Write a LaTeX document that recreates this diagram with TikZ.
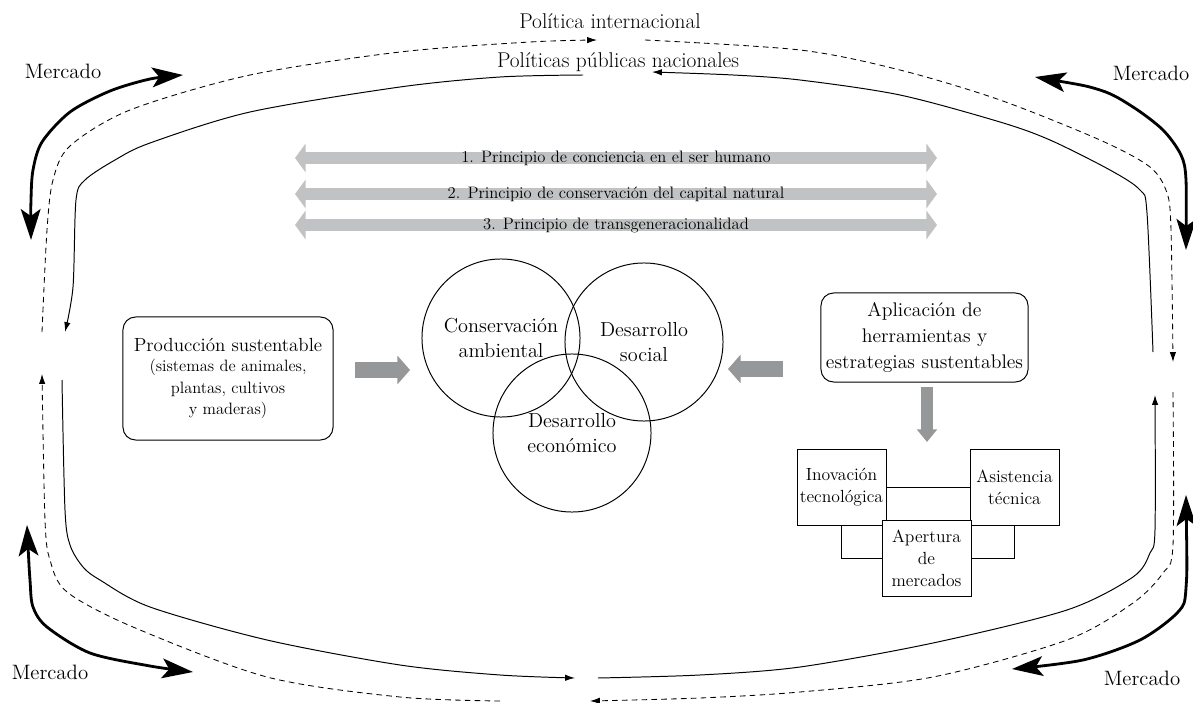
\documentclass[tikz,border=0pt]{standalone}
\usepackage{tikz}
\usetikzlibrary{positioning, arrows.meta}
\definecolor{principlegray}{RGB}{192,194,196}
\definecolor{blockgray}{RGB}{150,151,153}
\tikzset{mlabel/.style={font=\fontsize{14.8}{17}\selectfont},
  intl flow/.style={dash pattern=on 4pt off 3pt, line width=0.6pt, -{Latex[length=7pt,width=4.5pt]}},
  natl flow/.style={line width=0.7pt, -{Latex[length=7pt,width=4.5pt]}},
  market/.style={line width=2pt, {Stealth[length=22pt,width=14pt,inset=5pt]}-{Stealth[length=22pt,width=14pt,inset=5pt]}},
  principle/.style={draw=principlegray, line width=9.2pt, {Triangle[length=7.5pt,width=20pt]}-{Triangle[length=7.5pt,width=20pt]}},
  ptext/.style={font=\fontsize{11.8}{13}\selectfont, inner sep=0pt},
  block arrow/.style={draw=blockgray, line width=12pt, -{Triangle[length=9pt,width=20pt]}},
  round box/.style={draw, rounded corners=9pt, align=center, line width=0.7pt},
  venn/.style={circle, draw, minimum size=3.95cm, inner sep=0pt, align=center, line width=0.7pt, font=\fontsize{14.4}{17.8}\selectfont},
  tool box/.style={draw, fill=white, minimum width=2.225cm, minimum height=1.9cm, inner sep=1pt, align=center, line width=0.7pt, font=\fontsize{12.5}{15.6}\selectfont},}

\begin{document}
\begin{tikzpicture}[x=0.025cm, y=-0.025cm]
        \useasboundingbox (0,0) rectangle (1193,703);
        % Labels
        \node[mlabel, font=\fontsize{15.2}{17}\selectfont] (intl) at (610,21) {Política internacional};
        \node[mlabel, font=\fontsize{15.2}{17}\selectfont] (natl) at (618,62) {Políticas públicas nacionales};
        \node[mlabel] (m1) at (63,71) {Mercado};
        \node[mlabel] (m2) at (1151,73) {Mercado};
        \node[mlabel] (m3) at (50,672) {Mercado};
        \node[mlabel] (m4) at (1142,678) {Mercado};
        % International policy (dashed)
        \draw[intl flow] plot[smooth] coordinates {(42,332) (47,230) (53,180) (70,146) (130,110) (250,75) (400,52) (530,42) (597,40)};
        \draw[intl flow] plot[smooth] coordinates {(645,40) (800,50) (900,70) (1000,100) (1100,140) (1150,167) (1167,193) (1171,230) (1173,362)};
        \draw[intl flow] plot[smooth] coordinates {(1173,392) (1173,545) (1163,573) (1133,603) (1067,640) (933,677) (800,692) (700,698) (590,701)};
        \draw[intl flow] plot[smooth] coordinates {(500,701) (400,697) (267,677) (133,627) (67,592) (50,560) (45,520) (42,374)};
        % National policy (solid)
        \draw[natl flow] plot[smooth] coordinates {(583,75) (500,77) (400,87) (250,112) (150,143) (115,160) (85,180) (76,200) (73,287) (65,332)};
        \draw[natl flow] plot[smooth] coordinates {(62,380) (65,510) (70,545) (83,567) (100,580) (150,607) (267,640) (400,665) (500,675) (575,678)};
        \draw[natl flow] plot[smooth] coordinates {(598,678) (700,675) (800,667) (933,643) (1067,610) (1133,577) (1150,553) (1155,530) (1155,395)};
        \draw[natl flow] plot[smooth] coordinates {(1153,352) (1147,213) (1140,190) (1110,170) (1050,140) (1000,122) (900,95) (800,80) (733,75) (652,72)};
        % Market
        \draw[market] plot[smooth] coordinates {(31,240) (31,200) (33,170) (42,142) (70,112) (110,91) (150,79) (183,75)};
        \draw[market] plot[smooth] coordinates {(1035,77) (1100,90) (1133,107) (1163,130) (1181,155) (1186,180) (1186,250)};
        \draw[market] plot[smooth] coordinates {(27,525) (30,580) (33,607) (47,627) (90,653) (150,666) (193,672)};
        \draw[market] plot[smooth] coordinates {(1186,495) (1186,588) (1178,612) (1140,640) (1083,660) (1012,669)};
        % Principles
        \coordinate (pw1) at (295,158); \coordinate (pe1) at (937,158);
        \coordinate (pw2) at (295,194); \coordinate (pe2) at (937,194);
        \coordinate (pw3) at (295,225); \coordinate (pe3) at (937,225);
        \draw[principle] (pw1) -- node[ptext] (p1) {1. Principio de conciencia en el ser humano} (pe1);
        \draw[principle] (pw2) -- node[ptext] (p2) {2. Principio de conservación del capital natural} (pe2);
        \draw[principle] (pw3) -- node[ptext] (p3) {3. Principio de transgeneracionalidad} (pe3);
        % Venn
        \node[venn] (c1) at (501,338) {Conservación\\ambiental};
        \node[venn] (c2) at (644,342) {Desarrollo\\social};
        \node[venn] (c3) at (572,433) {Desarrollo\\económico};
        % Boxes
        \node[round box, minimum width=5.25cm, minimum height=3.075cm, font=\fontsize{11.7}{14.2}\selectfont] (prod) at (228,378.5)
            {\fontsize{13.5}{14.2}\selectfont Producción sustentable\\[0pt]
             (sistemas de animales,\\[0.8pt]
             plantas, cultivos\\[0.8pt]
             y maderas)};
        \node[round box, minimum width=5.175cm, minimum height=2.225cm, font=\fontsize{14}{18.8}\selectfont] (apl) at (924.5,337.5)
            {Aplicación de\\herramientas y\\estrategias sustentables};
        \node[tool box] (inov) at (841.5,487) {Inovación\\tecnológica};
        \node[tool box] (asis) [right=2.075cm of inov] {Asistencia\\técnica};
        \draw[line width=0.7pt] (inov.east) -- (asis.west);
        \draw[line width=0.7pt] (inov.south) |- (926.5,558);
        \draw[line width=0.7pt] (asis.south) |- (926.5,558);
        \node[tool box] (apert) at (926.5,558) {Apertura\\de\\mercados};
        % Block arrows
        \coordinate (ba1) at (355,370); \coordinate (ba2) at (410,370);
        \coordinate (bb1) at (783,369); \coordinate (bb2) at (728,369);
        \coordinate (bc1) at (927,387); \coordinate (bc2) at (927,442);
        \draw[block arrow] (ba1) -- (ba2);
        \draw[block arrow] (bb1) -- (bb2);
        \draw[block arrow, line width=9.2pt, -{Triangle[length=9pt,width=14pt]}] (bc1) -- (bc2);
    \end{tikzpicture}
\end{document}
